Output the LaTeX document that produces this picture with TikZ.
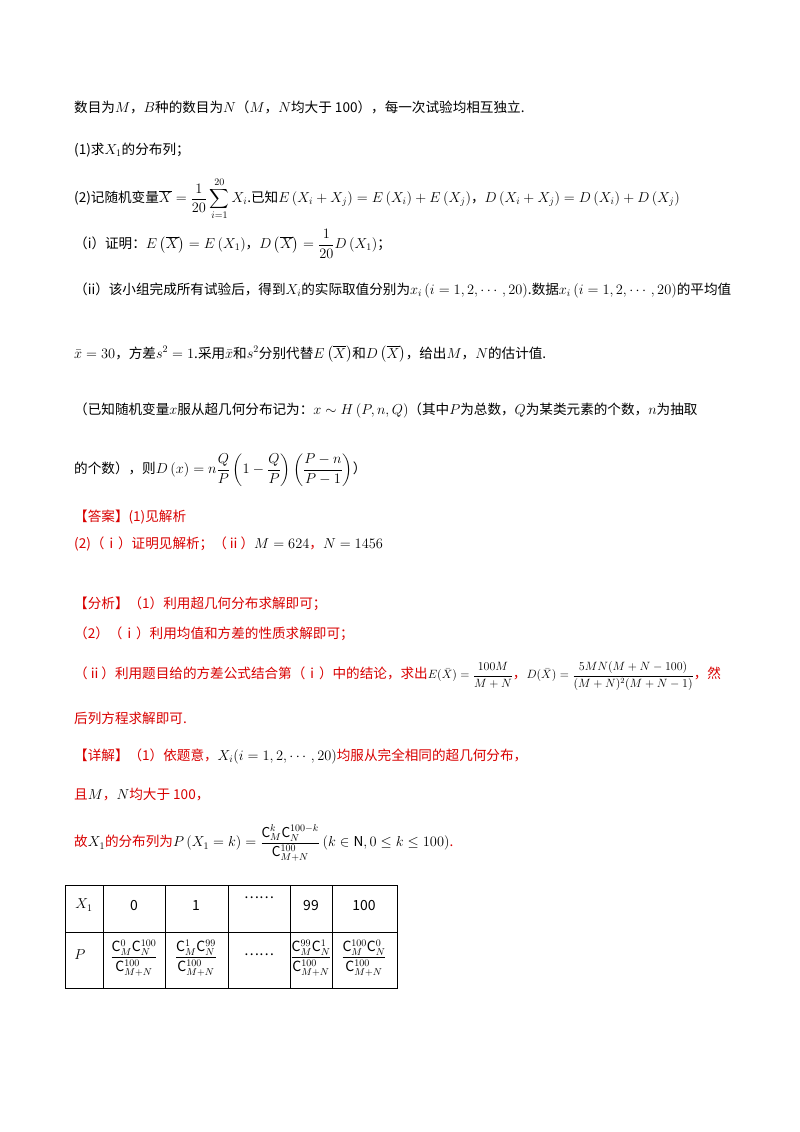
\documentclass[tikz,border=0pt]{standalone}
\usepackage{amsmath,amssymb}
\usepackage{fontspec}
\setmainfont{Noto Sans CJK SC}
\begin{document}
\begin{tikzpicture}[x=1pt,y=-1pt,
  ln/.style={anchor=west,inner sep=0pt,font=\fontsize{13.6}{16}\selectfont},
  rd/.style={ln,text=red!85!black},
  cell/.style={font=\fontsize{14}{16}\selectfont,inner sep=0pt}]
\useasboundingbox[fill=white] (0,0) rectangle (800,1132);
\node[ln] (l1) at (74,107) {数目为$M$，$B$种的数目为$N$（$M$，$N$均大于 100），每一次试验均相互独立.};
\node[ln] (l2) at (74,150) {(1)求$X_1$的分布列；};
\node[ln] (l3) at (74,199) {(2)记随机变量$\overline{X}=\dfrac{1}{20}\displaystyle\sum_{i=1}^{20}X_i$.已知$E\left(X_i+X_j\right)=E\left(X_i\right)+E\left(X_j\right)$，$D\left(X_i+X_j\right)=D\left(X_i\right)+D\left(X_j\right)$};
\node[ln] (l4) at (74,244) {（i）证明：$E\left(\overline{X}\right)=E\left(X_1\right)$，$D\left(\overline{X}\right)=\dfrac{1}{20}D\left(X_1\right)$；};
\node[ln] (l5) at (74,290) {（ii）该小组完成所有试验后，得到$X_i$的实际取值分别为$x_i\left(i=1,2,\cdots,20\right)$.数据$x_i\left(i=1,2,\cdots,20\right)$的平均值};
\node[ln] (l6) at (74,354) {$\bar{x}=30$，方差$s^2=1$.采用$\bar{x}$和$s^2$分别代替$E\left(\overline{X}\right)$和$D\left(\overline{X}\right)$，给出$M$，$N$的估计值.};
\node[ln] (l7) at (74,410) {（已知随机变量$x$服从超几何分布记为：$x\sim H\left(P,n,Q\right)$（其中$P$为总数，$Q$为某类元素的个数，$n$为抽取};
\node[ln] (l8) at (74,470) {的个数），则$D\left(x\right)=n\dfrac{Q}{P}\left(1-\dfrac{Q}{P}\right)\left(\dfrac{P-n}{P-1}\right)$）};
\node[rd] (a1) at (74,517) {【答案】(1)见解析};
\node[rd] (a2) at (74,544) {(2)（ⅰ）证明见解析；（ⅱ）{\color{black}$M=624$}，{\color{black}$N=1456$}};
\node[rd] (f1) at (74,604) {【分析】（1）利用超几何分布求解即可；};
\node[rd] (f2) at (74,634) {（2）（ⅰ）利用均值和方差的性质求解即可；};
\node[rd] (f3) at (74,676) {（ⅱ）利用题目给的方差公式结合第（ⅰ）中的结论，求出{\color{black}\fontsize{12}{14}\selectfont$E(\bar{X})=\dfrac{100M}{M+N}$}，{\color{black}\fontsize{12}{14}\selectfont$D(\bar{X})=\dfrac{5MN(M+N-100)}{(M+N)^2(M+N-1)}$}，然};
\node[rd] (f4) at (74,718) {后列方程求解即可.};
\node[rd] (d1) at (74,756) {【详解】（1）依题意，{\color{black}$X_i(i=1,2,\cdots,20)$}均服从完全相同的超几何分布，};
\node[rd] (d2) at (74,795) {且{\color{black}$M$}，{\color{black}$N$}均大于 100，};
\node[rd] (d3) at (74,843) {故{\color{black}$X_1$}的分布列为{\color{black}$P\left(X_1=k\right)=\dfrac{\mathrm{C}_M^k\mathrm{C}_N^{100-k}}{\mathrm{C}_{M+N}^{100}}\left(k\in\mathrm{N},0\le k\le100\right)$}.};
% table
\draw[line width=0.8pt] (65,885) rectangle (397,988);
\draw (65,932) -- (397,932);
\foreach \xx in {103,165,228,290,332} \draw (\xx,885) -- (\xx,988);
\node[cell] (h0) at (84,905) {$X_1$};
\node[cell] (h1) at (134,905) {0};
\node[cell] (h2) at (196,905) {1};
\node[cell] (h3) at (259,898) {……};
\node[cell] (h4) at (311,905) {99};
\node[cell] (h5) at (364,905) {100};
\node[cell] (p0) at (80,955) {$P$};
\node[cell] (p1) at (134,958) {$\dfrac{\mathrm{C}_M^0\mathrm{C}_N^{100}}{\mathrm{C}_{M+N}^{100}}$};
\node[cell] (p2) at (196,958) {$\dfrac{\mathrm{C}_M^1\mathrm{C}_N^{99}}{\mathrm{C}_{M+N}^{100}}$};
\node[cell] (p3) at (259,955) {……};
\node[cell] (p4) at (311,958) {$\dfrac{\mathrm{C}_M^{99}\mathrm{C}_N^{1}}{\mathrm{C}_{M+N}^{100}}$};
\node[cell] (p5) at (364,958) {$\dfrac{\mathrm{C}_M^{100}\mathrm{C}_N^{0}}{\mathrm{C}_{M+N}^{100}}$};
\end{tikzpicture}
\end{document}
